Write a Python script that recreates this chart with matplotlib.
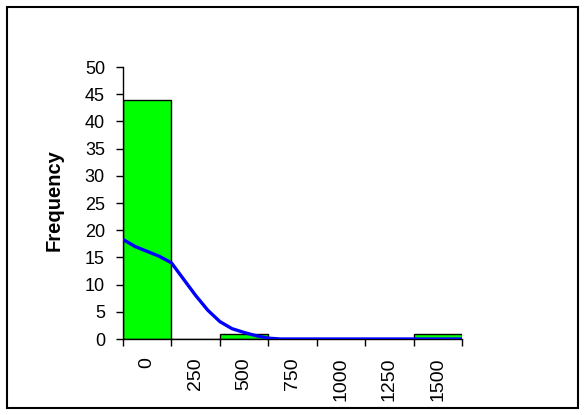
import numpy as np
import matplotlib.pyplot as plt
from matplotlib.patches import Rectangle

plt.rcParams['font.family'] = ['Liberation Sans', 'DejaVu Sans']

# histogram bins and counts
bins = ['0', '250', '500', '750', '1000', '1250', '1500']
counts = [44, 0, 1, 0, 0, 0, 1]

# fitted curve (x in bin positions)
curve_x = [-0.5, -0.25, 0, 0.25, 0.5, 0.75, 1.0, 1.25, 1.5, 1.75, 2.0, 2.25, 2.5, 2.75, 3.5, 4.5, 5.5, 6.5]
curve_y = [18.3, 17.0, 16.1, 15.2, 14.0, 11.0, 8.0, 5.3, 3.2, 1.9, 1.2, 0.6, 0.15, 0, 0, 0, 0, 0]

fig = plt.figure(figsize=(5.84, 4.15), dpi=100)
fig.patches.append(Rectangle((6.5 / 584, 7 / 415), 571 / 584, 401 / 415,
                             transform=fig.transFigure, fill=False,
                             edgecolor='black', linewidth=1.5))

ax = fig.add_axes([123 / 584, 76 / 415, 339 / 584, 272 / 415])
pos = np.arange(len(bins))
ax.bar(pos, counts, width=1.0, color='#00FF00', edgecolor='black', linewidth=1.0, zorder=2)
ax.plot(curve_x, curve_y, color='#0000FF', linewidth=2.4, zorder=3)

ax.set_xlim(-0.5, len(bins) - 0.5)
ax.set_ylim(0, 50)
ax.set_yticks(range(0, 51, 5))
ax.set_xticks(pos)
ax.set_xticklabels(bins, rotation=90, va='top', ha='center')
ax.set_xticks(np.arange(-0.5, len(bins), 1.0), minor=True)
ax.tick_params(axis='x', which='major', length=0, pad=13, labelsize=14)
ax.tick_params(axis='x', which='minor', length=5, width=1, direction='out')
ax.tick_params(axis='y', length=5, width=1, pad=8, labelsize=13)

for s in ['top', 'right']:
    ax.spines[s].set_visible(False)
for s in ['left', 'bottom']:
    ax.spines[s].set_linewidth(1.0)

ax.set_ylabel('Frequency', fontsize=14.5, fontweight='bold')
ax.yaxis.set_label_coords(-0.176, 0.511)

fig.savefig('out.png', dpi=100)
